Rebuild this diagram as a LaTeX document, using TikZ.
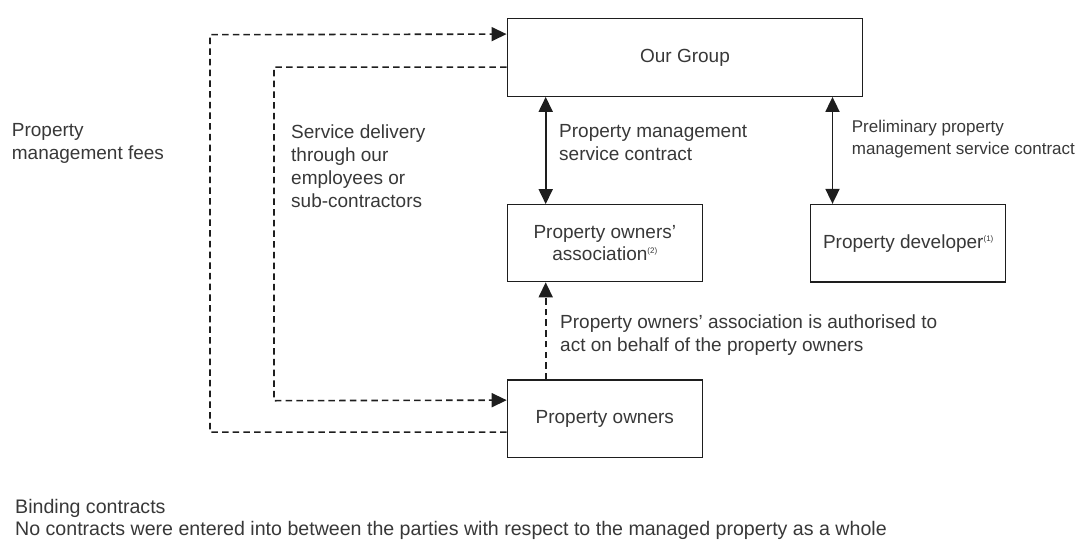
\documentclass[tikz,border=0pt]{standalone}
\usepackage{fontspec}
\setmainfont{Liberation Sans}
\usetikzlibrary{arrows.meta}
\definecolor{txt}{HTML}{383838}
\definecolor{ln}{HTML}{1E1E1E}
\newcommand{\supnote}[1]{\raisebox{7pt}{\fontsize{8}{8}\selectfont(#1)}}
\begin{document}
\begin{tikzpicture}[x=1pt,y=-1pt,
  box/.style={draw=ln, line width=1.2pt, inner sep=0pt, align=center, text=txt,
    font=\fontsize{19}{22.3}\selectfont},
  lbl/.style={inner sep=0pt, align=left, anchor=west, text=txt,
    font=\fontsize{19}{23}\selectfont},
  solidarrow/.style={draw=ln, line width=1.8pt,
    {Triangle[length=15pt,width=14pt]}-{Triangle[length=15pt,width=14pt]}},
  dashline/.style={draw=ln, line width=1.6pt, dash pattern=on 6.5pt off 4.2pt},
  tipend/.style={-{Triangle[length=15pt,width=14pt]}}]
\useasboundingbox (0,0) rectangle (1079,541);

% boxes
\node[box, minimum width=355.7pt, minimum height=77.6pt] (og) at (685,57.5) {Our Group};
\node[box, minimum width=195pt, minimum height=77pt] (as) at (604.8,243.2)
  {Property owners’\\association\supnote{2}};
\node[box, minimum width=195pt, minimum height=77.5pt] (dev) at (908.2,243.2)
  {Property developer\supnote{1}};
\node[box, minimum width=195pt, minimum height=77.3pt] (own) at (604.8,418.7)
  {Property owners};

% helper coordinates
\coordinate (xa) at (545.7,0);
\coordinate (xb) at (832.5,0);
\coordinate (outerc) at (210,34.7);
\coordinate (innerc) at (274,400.7);

% solid double arrows
\draw[solidarrow] (xa |- og.south) -- (xa |- as.north);
\draw[solidarrow] (xb |- og.south) -- (xb |- dev.north);

% dashed arrow owners -> association
\draw[dashline, tipend] (xa |- own.north) -- (xa |- as.south);

% outer dashed: owners -> our group (fees)
\draw[dashline, tipend] ([yshift=-52.7pt]own.north west) -| (outerc) -- ([yshift=-16pt]og.north west);

% inner dashed: our group -> owners (service delivery)
\draw[dashline, tipend] ([yshift=-49pt]og.north west) -| (innerc) -- ([yshift=-20.7pt]own.north west);

% labels
\node[lbl] (fees) at (11.7,143.4) {Property\\management fees};
\node[lbl] (svc) at (291,166.2) {Service delivery\\through our\\employees or\\sub-contractors};
\node[lbl] (pmsc) at (559,142.5) {Property management\\service contract};
\node[lbl, font=\fontsize{17}{21.7}\selectfont] (pre) at (851.7,139.2)
  {Preliminary property\\management service contract};
\node[lbl] (auth) at (560,334.7)
  {Property owners’ association is authorised to\\act on behalf of the property owners};
\node[lbl, font=\fontsize{19.6}{23}\selectfont] (bind) at (15,508) {Binding contracts};
\node[lbl, font=\fontsize{19.6}{23}\selectfont] (nocon) at (15,530)
  {No contracts were entered into between the parties with respect to the managed property as a whole};
\end{tikzpicture}
\end{document}
